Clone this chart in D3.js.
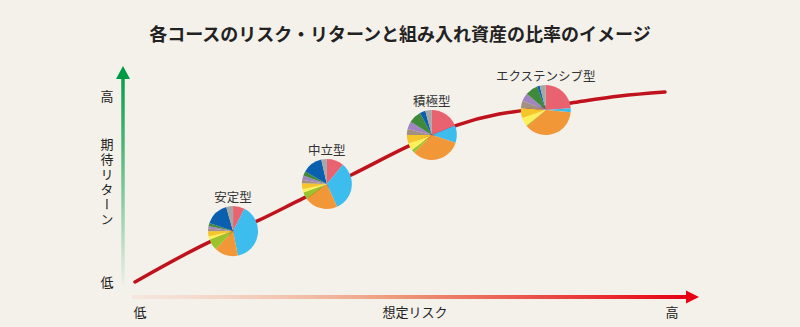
<!DOCTYPE html>
<html lang="ja">
<head>
<meta charset="utf-8">
<script src="https://cdn.jsdelivr.net/npm/d3@7"></script>
<style>
  html, body { margin: 0; padding: 0; background: #f4f1eb; }
  svg { display: block; font-family: "Noto Sans CJK JP", "Noto Sans", sans-serif; }
</style>
</head>
<body>
<svg id="chart" width="800" height="327"></svg>
<script>
// Risk/return curve (normalised 0..1 on both axes)
const curveRisk   = [0, 0.14, 0.23, 0.317, 0.408, 0.517, 0.608, 0.687, 0.73, 0.823, 0.915, 1.0];
const curveReturn = [0, 0.21, 0.32, 0.44, 0.563, 0.716, 0.826, 0.884, 0.902, 0.942, 0.979, 1.0];

// Courses placed on the curve
const courseNames  = ["安定型", "中立型", "積極型", "エクステンシブ型"];
const courseRisk   = [0.185, 0.362, 0.560, 0.775];
const courseReturn = [0.268, 0.516, 0.774, 0.905];

// Asset mix of each course (%), clockwise from 12 o'clock
const mixStable    = [7.5, 39.4, 15.3, 7.2, 2.2, 3.3, 1.7, 1.7, 1.9, 15.4, 4.4];
const mixNeutral   = [11.1, 32.2, 21.7, 4.4, 2.2, 3.9, 2.2, 2.8, 2.8, 13.1, 3.6];
const mixActive    = [18.9, 11.1, 32.5, 2.2, 4.7, 5.6, 3.9, 5.0, 8.3, 3.6, 4.2];
const mixExtensive = [23.9, 2.5, 37.3, 0.6, 5.6, 6.4, 4.7, 5.3, 8.1, 1.7, 3.9];
const assetColors  = ["#e9626f", "#3cbdee", "#f29738", "#9bc42c", "#fdf15a", "#f6c52a",
                      "#a39081", "#a185c0", "#3f8a3a", "#0a5fae", "#a6a6a6"];

// Axis text
const chartTitle   = "各コースのリスク・リターンと組み入れ資産の比率のイメージ";
const xAxisTitle   = "想定リスク";
const yAxisTitle   = "期待リターン";
const axisEndLabels = ["低", "高"];

const svg = d3.select("#chart");
const x = d3.scaleLinear().domain([0, 1]).range([135, 665]);
const y = d3.scaleLinear().domain([0, 1]).range([282, 92]);

const defs = svg.append("defs");

// Title
svg.append("text")
  .attr("x", 400).attr("y", 41)
  .attr("text-anchor", "middle")
  .attr("font-size", 18).attr("font-weight", 700)
  .attr("fill", "#222")
  .text(chartTitle);

// Vertical (return) arrow with green fade
const gV = defs.append("linearGradient").attr("id", "gradV")
  .attr("gradientUnits", "userSpaceOnUse")
  .attr("x1", 0).attr("y1", 284).attr("x2", 0).attr("y2", 66);
gV.append("stop").attr("offset", 0).attr("stop-color", "#009944").attr("stop-opacity", 0.03);
gV.append("stop").attr("offset", 0.55).attr("stop-color", "#009944").attr("stop-opacity", 0.6);
gV.append("stop").attr("offset", 1).attr("stop-color", "#009944").attr("stop-opacity", 1);

const ax = 123;
svg.append("rect")
  .attr("x", ax - 1.75).attr("y", 77).attr("width", 3.5).attr("height", 284 - 77)
  .attr("fill", "url(#gradV)");
svg.append("path")
  .attr("d", `M${ax},66 L${ax + 7},79 L${ax - 7},79 Z`)
  .attr("fill", "#009944");

// Horizontal (risk) arrow with red fade
const gH = defs.append("linearGradient").attr("id", "gradH")
  .attr("gradientUnits", "userSpaceOnUse")
  .attr("x1", 132).attr("y1", 0).attr("x2", 690).attr("y2", 0);
gH.append("stop").attr("offset", 0).attr("stop-color", "#f7d6c8").attr("stop-opacity", 0.4);
gH.append("stop").attr("offset", 0.45).attr("stop-color", "#eea080");
gH.append("stop").attr("offset", 1).attr("stop-color", "#e60012");

const ay = 297;
svg.append("rect")
  .attr("x", 132).attr("y", ay - 2).attr("width", 688 - 132).attr("height", 4)
  .attr("fill", "url(#gradH)");
svg.append("path")
  .attr("d", `M699,${ay} L686,${ay - 6.5} L686,${ay + 6.5} Z`)
  .attr("fill", "#e60012");

// Axis labels
const lbl = svg.append("g").attr("fill", "#222").attr("font-size", 13);
lbl.append("text").attr("x", 107).attr("y", 101).attr("text-anchor", "middle").text(axisEndLabels[1]);
lbl.append("text").attr("x", 107).attr("y", 287).attr("text-anchor", "middle").text(axisEndLabels[0]);
lbl.append("text")
  .attr("x", 107).attr("y", 138)
  .style("writing-mode", "vertical-rl")
  .attr("letter-spacing", 2)
  .text(yAxisTitle);
lbl.append("text").attr("x", 140).attr("y", 317).attr("text-anchor", "middle").text(axisEndLabels[0]);
lbl.append("text").attr("x", 415).attr("y", 317).attr("text-anchor", "middle").text(xAxisTitle);
lbl.append("text").attr("x", 672).attr("y", 317).attr("text-anchor", "middle").text(axisEndLabels[1]);

// Risk/return curve
const curvePts = curveRisk.map((r, i) => [x(r), y(curveReturn[i])]);
svg.append("path")
  .datum(curvePts)
  .attr("d", d3.line().curve(d3.curveMonotoneX))
  .attr("fill", "none")
  .attr("stroke", "#c0121c")
  .attr("stroke-width", 3.5)
  .attr("stroke-linecap", "round");

// Course pies
const mixes = [mixStable, mixNeutral, mixActive, mixExtensive];
const R = 25;
const pie = d3.pie().sort(null).value(d => d);
const arc = d3.arc().innerRadius(0).outerRadius(R);

courseNames.forEach((name, i) => {
  const cx = x(courseRisk[i]), cy = y(courseReturn[i]);
  const g = svg.append("g").attr("transform", `translate(${cx},${cy})`);
  g.selectAll("path")
    .data(pie(mixes[i]))
    .join("path")
    .attr("d", arc)
    .attr("fill", (d, j) => assetColors[j]);
  svg.append("text")
    .attr("x", cx).attr("y", cy - R - 4)
    .attr("text-anchor", "middle")
    .attr("font-size", 12.5)
    .attr("fill", "#333")
    .text(name);
});
</script>
</body>
</html>
